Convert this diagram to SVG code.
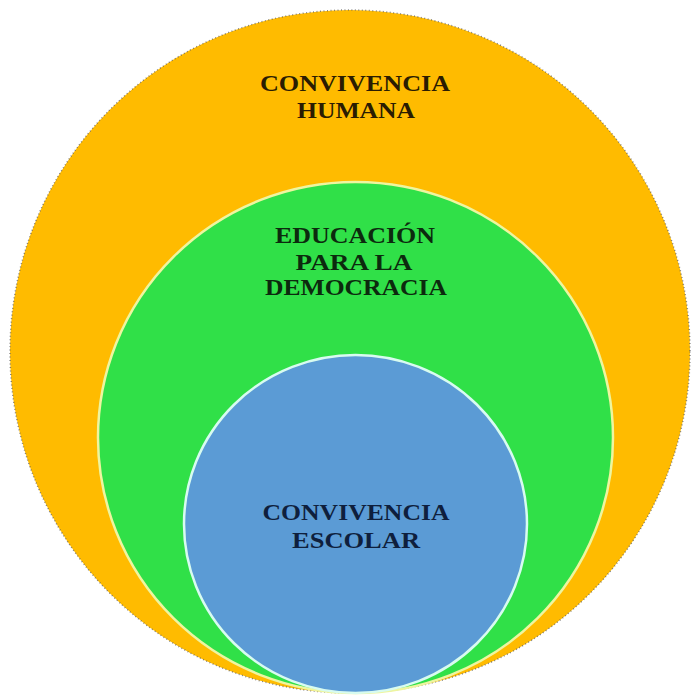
<svg xmlns="http://www.w3.org/2000/svg" width="693" height="695" viewBox="0 0 693 695">
<style>
  .lbl { font-family: "Liberation Serif", "Times New Roman", serif; font-weight: bold; font-size: 24px; text-anchor: middle; }
  .t1 { fill: #2a1c02; }
  .t2 { fill: #0c2a0e; }
  .t3 { fill: #0f1f3d; }
</style>
<rect width="693" height="695" fill="#ffffff"/>
<g id="convivencia-humana">
  <ellipse cx="350" cy="351.5" rx="340" ry="341.5" fill="#FFBB00"/>
  <ellipse cx="350" cy="351.5" rx="340" ry="341.5" fill="none" stroke="#5a5a5a" stroke-width="1.5" stroke-dasharray="1 2.5" opacity="0.7"/>
  <text class="lbl t1" x="355" y="91" textLength="190" lengthAdjust="spacingAndGlyphs">CONVIVENCIA</text>
  <text class="lbl t1" x="356" y="118" textLength="118" lengthAdjust="spacingAndGlyphs">HUMANA</text>
</g>
<g id="educacion-democracia">
  <ellipse cx="355.5" cy="437.5" rx="257.5" ry="255.5" fill="#30E048" stroke="#EEF5A0" stroke-width="2.5"/>
  <text class="lbl t2" x="355" y="243" textLength="160" lengthAdjust="spacingAndGlyphs">EDUCACIÓN</text>
  <text class="lbl t2" x="354" y="270" textLength="117" lengthAdjust="spacingAndGlyphs">PARA LA</text>
  <text class="lbl t2" x="356" y="295" textLength="182" lengthAdjust="spacingAndGlyphs">DEMOCRACIA</text>
</g>
<g id="convivencia-escolar">
  <ellipse cx="355.5" cy="524" rx="171.5" ry="169" fill="#5B9BD5" stroke="#D8FBF0" stroke-width="2.5"/>
  <text class="lbl t3" x="356" y="520" textLength="187" lengthAdjust="spacingAndGlyphs">CONVIVENCIA</text>
  <text class="lbl t3" x="356" y="548" textLength="128" lengthAdjust="spacingAndGlyphs">ESCOLAR</text>
</g>
<g id="connectors"></g>
</svg>
